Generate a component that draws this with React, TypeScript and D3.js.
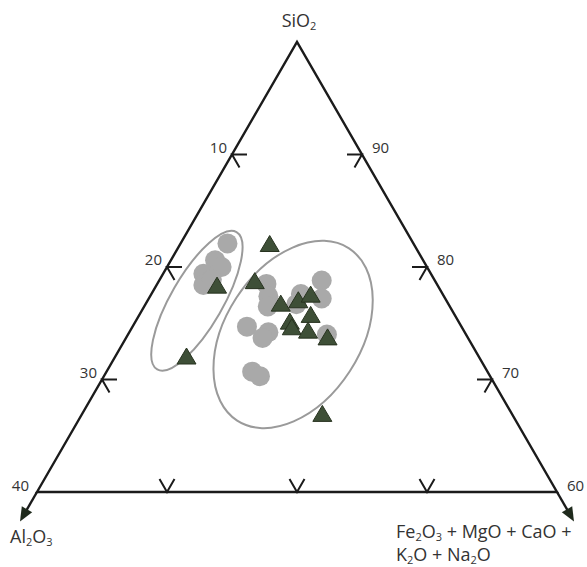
import React from "react";
import * as d3 from "d3";

// Composition data (wt %), SiO2 = 100 - Al2O3 - others
const circleAl = [14.3, 16.0, 15.8, 17.5, 18.0, 17.1, 13.1, 13.5, 14.0, 8.7, 9.5, 10.9, 11.7, 10.7, 16.5, 15.1, 15.8, 18.1, 17.7];
const circleFe = [3.6, 3.4, 4.2, 3.1, 3.6, 4.0, 8.4, 9.1, 9.5, 12.5, 13.3, 11.5, 11.6, 15.3, 8.8, 10.7, 10.5, 11.2, 12.0];
const triAl = [17.0, 22.5, 11.1, 13.9, 12.9, 11.4, 10.2, 11.1, 13.0, 13.1, 12.0, 10.8, 14.6];
const triFe = [4.7, 5.5, 6.9, 7.4, 10.4, 11.6, 12.3, 13.2, 11.9, 12.3, 13.7, 15.5, 18.5];

// Field ellipses (centre in composition, semi-axes in % units, rotation deg)
const ellipseAl = [19.2, 13.3];
const ellipseFe = [3.8, 12.7];
const ellipseRx = [6.1, 7.9];
const ellipseRy = [2.0, 5.2];
const ellipseRot = [-60, -57];

const leftTicks = [10, 20, 30];   // Al2O3 on left edge
const rightTicks = [90, 80, 70];  // SiO2 on right edge
const bottomTicks = [10, 20, 30]; // others on bottom edge
const leftLabels = ["10", "20", "30"];
const rightLabels = ["90", "80", "70"];

const W = 587, H = 567;
const apex = { x: 297, y: 42 };
const bl = { x: 37, y: 492 };
const br = { x: 557, y: 492 };
const MAX = 40;

const frac = d3.scaleLinear().domain([0, MAX]).range([0, 1]);
const unitPx = (br.x - bl.x) / MAX;

function proj(al: number, fe: number) {
  const a = frac(al), f = frac(fe), s = 1 - a - f;
  return { x: s * apex.x + a * bl.x + f * br.x, y: s * apex.y + a * bl.y + f * br.y };
}

const axisColor = "#1b1b1b";
const textColor = "#333";
const font = "'Open Sans', sans-serif";
const TL = 15;
const c60 = Math.cos(Math.PI / 3), s60 = Math.sin(Math.PI / 3);

function Sub({ children }: { children: string }) {
  return <tspan fontSize="11" dy="3">{children}</tspan>;
}
function Base({ children }: { children: string }) {
  return <tspan dy="-3">{children}</tspan>;
}

export default function App() {
  const triPath = (cx: number, cy: number) => {
    const w = 19, h = 16;
    return `M${cx},${cy - h / 2 - 1}L${cx + w / 2},${cy + h / 2 - 1}L${cx - w / 2},${cy + h / 2 - 1}Z`;
  };
  const ext = 34;
  const dl = { x: -c60, y: s60 };
  const dr = { x: c60, y: s60 };
  const tipL = { x: bl.x + dl.x * ext, y: bl.y + dl.y * ext };
  const tipR = { x: br.x + dr.x * ext, y: br.y + dr.y * ext };
  const arrow = (tip: { x: number; y: number }, d: { x: number; y: number }) => {
    const len = 14, hw = 6;
    const bx = tip.x - d.x * len, by = tip.y - d.y * len;
    const px = -d.y, py = d.x;
    return `M${tip.x},${tip.y}L${bx + px * hw},${by + py * hw}L${bx - px * hw},${by - py * hw}Z`;
  };

  return (
    <svg width={W} height={H} style={{ position: "absolute", left: 0, top: 0, background: "#fff" }} fontFamily={font}>
      {ellipseAl.map((al, i) => {
        const c = proj(al, ellipseFe[i]);
        return (
          <ellipse key={"e" + i} cx={0} cy={0} rx={ellipseRx[i] * unitPx} ry={ellipseRy[i] * unitPx}
            transform={`translate(${c.x},${c.y}) rotate(${ellipseRot[i]})`}
            fill="none" stroke="#9a9a9a" strokeWidth={2} />
        );
      })}
      <path d={`M${bl.x},${bl.y}L${apex.x},${apex.y}L${br.x},${br.y}Z`} fill="none" stroke={axisColor} strokeWidth={2.4} strokeLinejoin="miter" />
      <line x1={bl.x} y1={bl.y} x2={tipL.x - dl.x * 8} y2={tipL.y - dl.y * 8} stroke={axisColor} strokeWidth={2.4} />
      <line x1={br.x} y1={br.y} x2={tipR.x - dr.x * 8} y2={tipR.y - dr.y * 8} stroke={axisColor} strokeWidth={2.4} />
      <path d={arrow(tipL, dl)} fill="#1f2a1c" />
      <path d={arrow(tipR, dr)} fill="#1f2a1c" />
      {leftTicks.map((v, i) => {
        const p = proj(v, 0);
        return (
          <g key={"lt" + i}>
            <path d={`M${p.x + TL},${p.y}L${p.x},${p.y}L${p.x + c60 * TL},${p.y + s60 * TL}`} fill="none" stroke={axisColor} strokeWidth={2} />
            <text x={p.x - 5} y={p.y - 2} textAnchor="end" fontSize={15} fill={textColor}>{leftLabels[i]}</text>
          </g>
        );
      })}
      {rightTicks.map((v, i) => {
        const p = proj(0, 100 - v);
        return (
          <g key={"rt" + i}>
            <path d={`M${p.x - TL},${p.y}L${p.x},${p.y}L${p.x - c60 * TL},${p.y + s60 * TL}`} fill="none" stroke={axisColor} strokeWidth={2} />
            <text x={p.x + 10} y={p.y - 2} textAnchor="start" fontSize={15} fill={textColor}>{rightLabels[i]}</text>
          </g>
        );
      })}
      {bottomTicks.map((v, i) => {
        const p = proj(MAX - v, v);
        return (
          <path key={"bt" + i} d={`M${p.x - c60 * TL},${p.y - s60 * TL}L${p.x},${p.y}L${p.x + c60 * TL},${p.y - s60 * TL}`} fill="none" stroke={axisColor} strokeWidth={2} />
        );
      })}
      <text x={bl.x - 8} y={bl.y - 1} textAnchor="end" fontSize={15} fill={textColor}>40</text>
      <text x={br.x + 10} y={br.y - 1} textAnchor="start" fontSize={15} fill={textColor}>60</text>
      {circleAl.map((al, i) => {
        const p = proj(al, circleFe[i]);
        return <circle key={"c" + i} cx={p.x} cy={p.y} r={10} fill="#a9a9a9" />;
      })}
      {triAl.map((al, i) => {
        const p = proj(al, triFe[i]);
        return <path key={"t" + i} d={triPath(p.x, p.y)} fill="#3e4f37" stroke="#27321f" strokeWidth={1} />;
      })}
      <text x={299} y={27} textAnchor="middle" fontSize={18} fill={textColor}>SiO<Sub>2</Sub></text>
      <text x={10} y={543} fontSize={18} fill={textColor}>Al<Sub>2</Sub><Base>O</Base><Sub>3</Sub></text>
      <text x={396} y={538} fontSize={18} fill={textColor}>
        Fe<Sub>2</Sub><Base>O</Base><Sub>3</Sub><Base> + MgO + CaO +</Base>
      </text>
      <text x={396} y={561} fontSize={18} fill={textColor}>
        K<Sub>2</Sub><Base>O + Na</Base><Sub>2</Sub><Base>O</Base>
      </text>
    </svg>
  );
}
